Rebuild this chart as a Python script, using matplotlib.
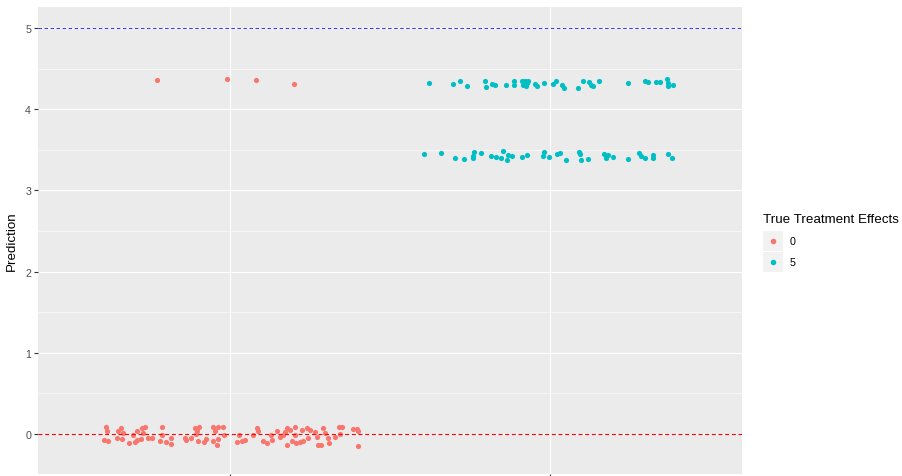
import numpy as np
import matplotlib
matplotlib.use("Agg")
import matplotlib.pyplot as plt
from matplotlib.patches import Rectangle
from matplotlib.lines import Line2D

plt.rcParams['font.family'] = ['Liberation Sans', 'DejaVu Sans']

# jittered x position and prediction, true effect = 0
x_zero = [0.613, 0.615, 0.606, 0.619, 0.651, 0.658, 0.665, 0.648, 0.661, 0.684,
          0.698, 0.708, 0.704, 0.710, 0.724, 0.734, 0.729, 0.722, 0.745, 0.755,
          0.786, 0.786, 0.781, 0.800, 0.815, 0.815, 0.859, 0.863, 0.877, 0.891,
          0.896, 0.904, 0.894, 0.901, 0.919, 0.925, 0.948, 0.953, 0.964, 0.979,
          0.981, 0.948, 0.964, 0.960, 1.021, 1.029, 1.036, 1.047, 1.073, 1.085,
          1.089, 1.102, 1.115, 1.127, 1.130, 1.148, 1.156, 1.167, 1.172, 1.177,
          1.179, 1.188, 1.193, 1.203, 1.203, 1.206, 1.219, 1.227, 1.224, 1.242,
          1.245, 1.250, 1.266, 1.271, 1.276, 1.283, 1.292, 1.297, 1.307, 1.310,
          1.328, 1.342, 1.349, 1.344, 1.383, 1.398, 1.401, 1.401,
          0.773, 0.990, 1.080, 1.200]
y_zero = [0.089, 0.036, -0.077, -0.085, 0.028, 0.077, 0.012, -0.053, -0.065, -0.109,
          -0.012, 0.036, -0.105, -0.073, 0.069, 0.089, 0.004, -0.061, -0.053, -0.053,
          0.089, -0.012, -0.085, -0.097, -0.053, -0.121, -0.053, -0.077, -0.053, 0.069,
          0.036, 0.089, -0.004, -0.085, -0.101, -0.061, 0.089, 0.028, 0.089, 0.089,
          -0.012, -0.085, -0.061, -0.142, -0.097, -0.012, -0.085, -0.077, -0.012, 0.069,
          0.036, -0.085, -0.113, -0.012, -0.073, 0.036, -0.045, -0.012, 0.020, 0.069,
          -0.142, 0.049, -0.085, 0.089, -0.012, -0.113, -0.105, -0.093, 0.049, 0.077,
          -0.053, 0.049, 0.020, -0.045, -0.142, -0.133, 0.077, 0.008, -0.053, -0.113,
          -0.045, 0.089, 0.089, -0.004, 0.061, 0.061, 0.028, -0.154,
          4.357, 4.369, 4.357, 4.312]

# true effect = 5
x_five = [1.623, 1.698, 1.719, 1.740, 1.797, 1.799, 1.818, 1.828, 1.863, 1.888,
          1.888, 1.911, 1.917, 1.922, 1.927, 1.932, 1.925, 1.953, 1.958, 1.981,
          2.010, 2.019, 2.036, 2.044, 2.086, 2.104, 2.123, 2.127, 2.134, 2.154,
          2.245, 2.297, 2.307, 2.331, 2.344, 2.365, 2.368, 2.370, 2.383,
          1.607, 1.659, 1.703, 1.731, 1.758, 1.763, 1.758, 1.784, 1.816, 1.831,
          1.846, 1.854, 1.870, 1.865, 1.880, 1.911, 1.927, 1.977, 1.981, 1.998,
          2.021, 2.031, 2.050, 2.092, 2.094, 2.096, 2.118, 2.170, 2.175, 2.180,
          2.198, 2.245, 2.279, 2.283, 2.298, 2.323, 2.323, 2.370, 2.380]
y_five = [4.324, 4.316, 4.348, 4.284, 4.356, 4.275, 4.316, 4.296, 4.296, 4.356,
          4.296, 4.348, 4.296, 4.356, 4.324, 4.356, 4.284, 4.308, 4.288, 4.324,
          4.308, 4.356, 4.296, 4.267, 4.267, 4.356, 4.336, 4.296, 4.284, 4.348,
          4.324, 4.356, 4.336, 4.344, 4.336, 4.376, 4.324, 4.284, 4.296,
          3.447, 3.462, 3.406, 3.386, 3.426, 3.474, 3.398, 3.462, 3.430, 3.418,
          3.398, 3.487, 3.438, 3.374, 3.426, 3.418, 3.438, 3.430, 3.474, 3.418,
          3.447, 3.462, 3.374, 3.474, 3.447, 3.374, 3.386, 3.455, 3.406, 3.434,
          3.418, 3.386, 3.462, 3.426, 3.398, 3.434, 3.406, 3.447, 3.398]

groups = ["0", "5"]
colors = ["#F8766D", "#00BFC4"]
y_ticks = [0, 1, 2, 3, 4, 5]

W, H = 902, 477
fig = plt.figure(figsize=(W / 100, H / 100), dpi=100)
# panel spans x 38..742 px, y 8..475.3 px
ax = fig.add_axes([38 / W, 1.7 / H, 704 / W, 467.3 / H])
ax.set_facecolor("#EBEBEB")
for s in ax.spines.values():
    s.set_visible(False)

ax.set_xlim(0.4, 2.6)
ax.set_ylim(-0.40, 5.263)
ax.set_yticks(y_ticks)
ax.set_yticks(np.arange(-0.5, 5.5, 1.0), minor=True)
ax.set_xticks([1, 2])
ax.set_xticklabels(["", ""])
ax.grid(which="major", color="white", lw=0.8)
ax.grid(which="minor", axis="y", color="white", lw=0.4)
ax.set_axisbelow(True)
ax.tick_params(axis="both", which="major", length=3, width=0.8, color="#333333",
               labelsize=7.7, labelcolor="#4D4D4D", pad=2)
ax.tick_params(which="minor", length=0)
ax.set_ylabel("Prediction", fontsize=9.6, labelpad=5)

ax.scatter(x_zero, y_zero, s=14, color=colors[0], linewidths=0, zorder=3)
ax.scatter(x_five, y_five, s=14, color=colors[1], linewidths=0, zorder=3)
ax.axhline(0, color="red", lw=0.8, ls=(0, (3.6, 2.4)), zorder=4)
ax.axhline(5, color="blue", lw=0.7, ls=(0, (3.6, 2.6)), alpha=0.8, zorder=4)

# legend
fig.text(763 / W, 1 - 220 / H, "True Treatment Effects", fontsize=9.6, va="center", ha="left")
for i, (g, c) in enumerate(zip(groups, colors)):
    yc = 242 + i * 21
    fig.add_artist(Rectangle((763 / W, 1 - (yc + 10) / H), 20 / W, 20 / H,
                             transform=fig.transFigure, facecolor="#F2F2F2", edgecolor="none"))
    fig.add_artist(Line2D([773 / W], [1 - yc / H], marker="o", ms=4, color=c,
                          mec="none", transform=fig.transFigure))
    fig.text(790 / W, 1 - yc / H, g, fontsize=7.7, va="center", ha="left")

fig.savefig("out.png", dpi=100)
